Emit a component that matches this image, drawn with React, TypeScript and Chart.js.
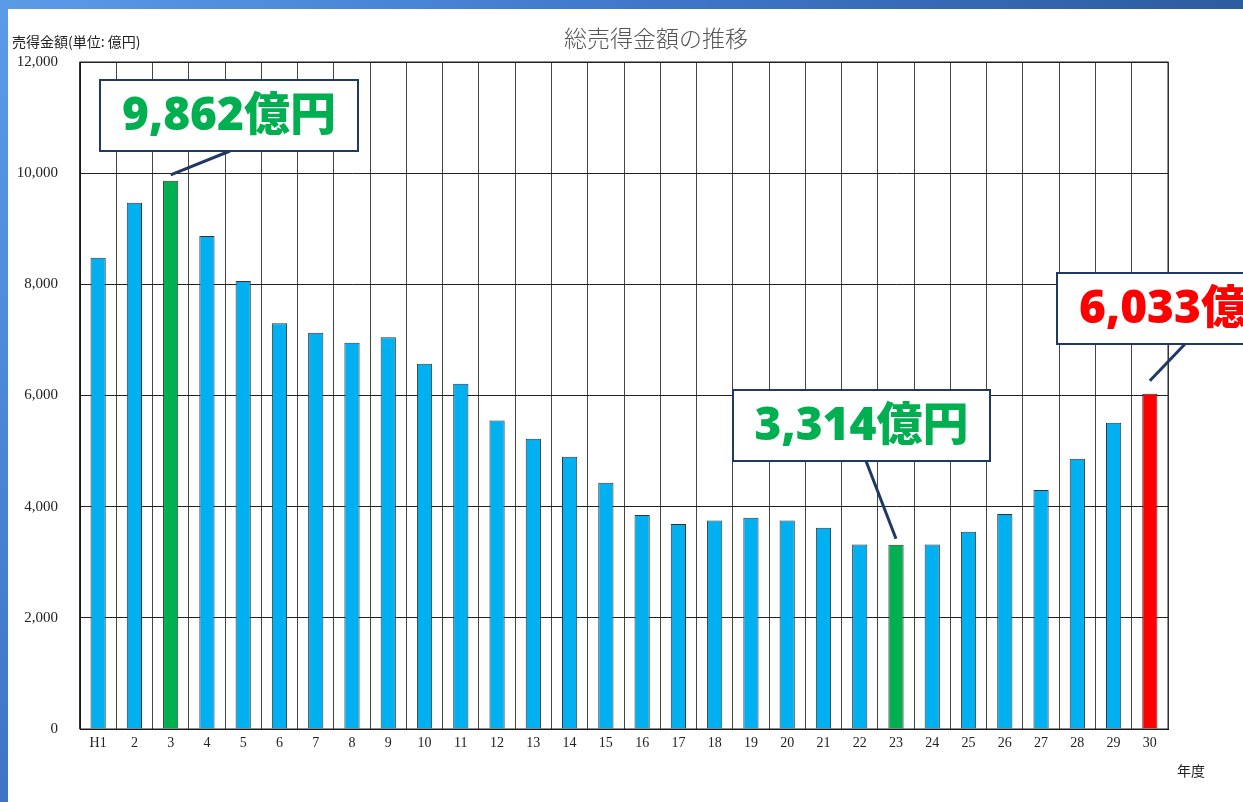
import React, { useEffect, useRef } from "react";
import { Chart, registerables } from "chart.js";

Chart.register(...registerables);

const categories = ["H1", "2", "3", "4", "5", "6", "7", "8", "9", "10", "11", "12", "13", "14", "15", "16", "17", "18", "19", "20", "21", "22", "23", "24", "25", "26", "27", "28", "29", "30"];
const sales = [8480, 9470, 9862, 8870, 8060, 7300, 7130, 6950, 7050, 6570, 6210, 5550, 5220, 4900, 4430, 3850, 3690, 3750, 3800, 3750, 3620, 3320, 3314, 3320, 3550, 3870, 4300, 4860, 5510, 6033];
const highlightGreen = [2, 22];
const highlightRed = [29];
const calloutTexts = ["9,862億円", "3,314億円", "6,033億円"];
const calloutIndex = [2, 22, 29];
const yTicks = [0, 2000, 4000, 6000, 8000, 10000, 12000];

const barColors = sales.map((_, i) =>
  highlightRed.includes(i) ? "#ff0000" : highlightGreen.includes(i) ? "#00b050" : "#00b0f0"
);

const calloutStyles = [
  { x: 100, y: 80, w: 258, h: 71, color: "#00b050", from: [230, 151], gap: 6 },
  { x: 733, y: 390, w: 257, h: 71, color: "#00b050", from: [866, 461], gap: 6 },
  { x: 1057, y: 273, w: 258, h: 71, color: "#ff0000", from: [1185, 344], gap: 13 },
];

const calloutFont = "'Open Sans', 'Noto Sans CJK JP'";

const overlayPlugin = {
  id: "overlay",
  afterDraw(chart: any) {
    const ctx = chart.ctx;
    const meta = chart.getDatasetMeta(0);
    ctx.save();
    // title
    ctx.fillStyle = "#555";
    ctx.font = "300 23px 'Noto Sans CJK JP'";
    ctx.textAlign = "center";
    ctx.textBaseline = "middle";
    ctx.fillText("総売得金額の推移", 656, 38);
    // y title
    ctx.fillStyle = "#222";
    ctx.font = "14px 'Noto Sans CJK JP'";
    ctx.textAlign = "left";
    ctx.fillText("売得金額(単位: 億円)", 12, 42);
    // x title
    ctx.fillText("年度", 1177, 771);

    calloutIndex.forEach((idx, k) => {
      const s = calloutStyles[k];
      const bar = meta.data[idx];
      ctx.strokeStyle = "#1f3864";
      ctx.lineWidth = 3;
      ctx.beginPath();
      ctx.moveTo(s.from[0], s.from[1]);
      ctx.lineTo(bar.x, bar.y - s.gap);
      ctx.stroke();
      ctx.fillStyle = "#ffffff";
      ctx.fillRect(s.x, s.y, s.w, s.h);
      ctx.lineWidth = 2;
      ctx.strokeRect(s.x, s.y, s.w, s.h);
      ctx.font = `800 44px ${calloutFont}`;
      const w = ctx.measureText(calloutTexts[k]).width;
      const size = Math.round((44 * 212) / w);
      ctx.font = `800 ${size}px ${calloutFont}`;
      ctx.fillStyle = s.color;
      ctx.textAlign = "center";
      ctx.textBaseline = "middle";
      ctx.fillText(calloutTexts[k], s.x + s.w / 2, s.y + s.h / 2 + 1);
    });
    ctx.restore();
  },
};

export default function App() {
  const ref = useRef<HTMLCanvasElement>(null);
  useEffect(() => {
    document.body.style.margin = "0";
    const chart = new Chart(ref.current!, {
      type: "bar",
      data: {
        labels: categories,
        datasets: [
          {
            data: sales,
            backgroundColor: barColors,
            borderColor: "#333",
            borderWidth: 1,
            barPercentage: 0.42,
            categoryPercentage: 1,
          },
        ],
      },
      options: {
        animation: false,
        responsive: false,
        layout: { padding: { left: 0, right: 75, top: 62, bottom: 0 } },
        plugins: { legend: { display: false }, tooltip: { enabled: false }, title: { display: false } },
        scales: {
          x: {
            grid: { color: "#444", lineWidth: 1, offset: true, drawTicks: false },
            border: { color: "#111", width: 1 },
            ticks: { color: "#222", font: { family: "'Liberation Serif'", size: 14 }, padding: 6, maxRotation: 0, autoSkip: false },
            afterFit: (s: any) => { s.height = 73; },
          },
          y: {
            min: 0,
            max: 12000,
            afterBuildTicks: (s: any) => { s.ticks = yTicks.map((v) => ({ value: v })); },
            grid: { color: "#222", lineWidth: 1, drawTicks: false },
            border: { color: "#111", width: 1 },
            ticks: {
              color: "#222",
              font: { family: "'Liberation Serif'", size: 15 },
              padding: 22,
              callback: (v: any) => Number(v).toLocaleString("en-US"),
            },
            afterFit: (s: any) => { s.width = 80; },
          },
        },
      },
      plugins: [
        {
          id: "rightBorder",
          afterDatasetsDraw(chart: any) {
            const { ctx, chartArea } = chart;
            ctx.save();
            ctx.strokeStyle = "#222";
            ctx.lineWidth = 1;
            ctx.strokeRect(chartArea.left, chartArea.top, chartArea.right - chartArea.left, chartArea.bottom - chartArea.top);
            ctx.restore();
          },
        },
        overlayPlugin,
      ],
    });
    return () => chart.destroy();
  }, []);

  return (
    <div style={{ position: "absolute", left: 0, top: 0, width: 1243, height: 802, background: "#fff", overflow: "hidden" }}>
      <div style={{ position: "absolute", left: 0, top: 0, width: 1243, height: 9, background: "linear-gradient(to right, #5a9be8, #3f78cc 50%, #2d5b9f)" }} />
      <div style={{ position: "absolute", left: 0, top: 0, width: 8, height: 802, background: "linear-gradient(to bottom, #5a9be8, #3d74c6)" }} />
      <canvas ref={ref} width={1243} height={802} style={{ position: "absolute", left: 0, top: 0 }} />
    </div>
  );
}
